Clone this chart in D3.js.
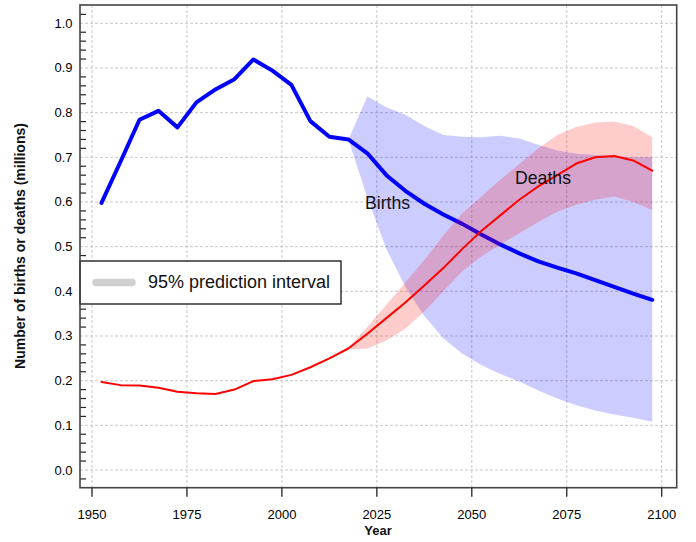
<!DOCTYPE html>
<html>
<head>
<meta charset="utf-8">
<script src="https://cdn.jsdelivr.net/npm/d3@7"></script>
<style>
  html, body { margin: 0; padding: 0; background: #fff; }
  svg { display: block; }
  text { font-family: "Liberation Sans", Arial, Helvetica, sans-serif; }
</style>
</head>
<body>
<script>
// ---- data ----
const years = [1952.5, 1957.5, 1962.5, 1967.5, 1972.5, 1977.5, 1982.5, 1987.5, 1992.5, 1997.5,
               2002.5, 2007.5, 2012.5, 2017.5, 2022.5, 2027.5, 2032.5, 2037.5, 2042.5, 2047.5,
               2052.5, 2057.5, 2062.5, 2067.5, 2072.5, 2077.5, 2082.5, 2087.5, 2092.5, 2097.5];
const births = [0.598, 0.690, 0.784, 0.804, 0.767, 0.823, 0.852, 0.875, 0.919, 0.894,
                0.862, 0.781, 0.746, 0.740, 0.709, 0.660, 0.625, 0.596, 0.572, 0.551,
                0.527, 0.505, 0.485, 0.467, 0.453, 0.440, 0.425, 0.410, 0.395, 0.381];
const deaths = [0.197, 0.190, 0.189, 0.184, 0.175, 0.172, 0.170, 0.180, 0.199, 0.203,
                0.213, 0.230, 0.250, 0.272, 0.305, 0.340, 0.375, 0.413, 0.452, 0.495,
                0.535, 0.570, 0.605, 0.635, 0.660, 0.686, 0.700, 0.703, 0.693, 0.670];
const bandYears = [2017.5, 2022.5, 2027.5, 2032.5, 2037.5, 2042.5, 2047.5, 2052.5, 2057.5,
                   2062.5, 2067.5, 2072.5, 2077.5, 2082.5, 2087.5, 2092.5, 2097.5];
const birthsLow  = [0.740, 0.610, 0.495, 0.410, 0.345, 0.295, 0.260, 0.235, 0.215,
                    0.198, 0.178, 0.160, 0.145, 0.133, 0.124, 0.117, 0.108];
const birthsHigh = [0.740, 0.836, 0.812, 0.795, 0.770, 0.750, 0.746, 0.745, 0.748,
                    0.742, 0.728, 0.715, 0.708, 0.705, 0.703, 0.700, 0.700];
const deathsLow  = [0.270, 0.272, 0.290, 0.316, 0.355, 0.400, 0.445, 0.478, 0.505,
                    0.530, 0.555, 0.578, 0.594, 0.605, 0.612, 0.600, 0.582];
const deathsHigh = [0.275, 0.320, 0.370, 0.420, 0.470, 0.525, 0.575, 0.612, 0.650,
                    0.685, 0.720, 0.750, 0.768, 0.778, 0.780, 0.770, 0.745];
const xTicks = [1950, 1975, 2000, 2025, 2050, 2075, 2100];
const yTicks = [0.0, 0.1, 0.2, 0.3, 0.4, 0.5, 0.6, 0.7, 0.8, 0.9, 1.0];
const yMinorTicks = [-0.02, 0.02, 0.04, 0.06, 0.08, 0.12, 0.14, 0.16, 0.18, 0.22, 0.24, 0.26, 0.28,
                     0.32, 0.34, 0.36, 0.38, 0.42, 0.44, 0.46, 0.48, 0.52, 0.54, 0.56, 0.58,
                     0.62, 0.64, 0.66, 0.68, 0.72, 0.74, 0.76, 0.78, 0.82, 0.84, 0.86, 0.88,
                     0.92, 0.94, 0.96, 0.98, 1.02];

// ---- layout ----
const W = 696, H = 542;
const frame = {x0: 80, x1: 676.7, y0: 5, y1: 487.7};
const x = d3.scaleLinear().domain([1950, 2100]).range([92, 661.7]);
const y = d3.scaleLinear().domain([0, 1]).range([470, 23.3]);

const svg = d3.select("body").append("svg").attr("width", W).attr("height", H);

// gridlines
const grid = svg.append("g");
grid.selectAll("line.gx").data(xTicks).join("line")
  .attr("x1", d => x(d)).attr("x2", d => x(d))
  .attr("y1", frame.y0).attr("y2", frame.y1)
  .attr("stroke", "#c8c8c8").attr("stroke-width", 1).attr("stroke-dasharray", "3,2");
grid.selectAll("line.gy").data(yTicks).join("line")
  .attr("x1", frame.x0).attr("x2", frame.x1)
  .attr("y1", d => y(d)).attr("y2", d => y(d))
  .attr("stroke", "#c8c8c8").attr("stroke-width", 1).attr("stroke-dasharray", "3,2");

// minor ticks on y (inside)
svg.append("g").selectAll("line").data(yMinorTicks).join("line")
  .attr("x1", frame.x0).attr("x2", frame.x0 + 6)
  .attr("y1", d => y(d)).attr("y2", d => y(d))
  .attr("stroke", "#222").attr("stroke-width", 1.2);

// bands and lines
const band = (lo, hi) => d3.area()
  .x((d, i) => x(bandYears[i]))
  .y0((d, i) => y(lo[i]))
  .y1((d, i) => y(hi[i]));
const line = vals => d3.line().x((d, i) => x(years[i])).y((d, i) => y(vals[i]));

svg.append("path").attr("d", band(birthsLow, birthsHigh)(bandYears))
  .attr("fill", "#0000ff").attr("fill-opacity", 0.2);
svg.append("path").attr("d", line(births)(years))
  .attr("fill", "none").attr("stroke", "#0000ff").attr("stroke-width", 4)
  .attr("stroke-linejoin", "round").attr("stroke-linecap", "round");
svg.append("path").attr("d", band(deathsLow, deathsHigh)(bandYears))
  .attr("fill", "#ff0000").attr("fill-opacity", 0.2);
svg.append("path").attr("d", line(deaths)(years))
  .attr("fill", "none").attr("stroke", "#ff0000").attr("stroke-width", 2)
  .attr("stroke-linejoin", "round").attr("stroke-linecap", "round");

// series labels
svg.append("text").attr("x", 365).attr("y", 209).attr("font-size", 17.7).attr("fill", "#111").text("Births");
svg.append("text").attr("x", 515).attr("y", 184).attr("font-size", 17.7).attr("fill", "#111").text("Deaths");

// legend
const lg = svg.append("g");
lg.append("rect").attr("x", 80).attr("y", 261).attr("width", 261).attr("height", 43)
  .attr("fill", "#fff").attr("stroke", "#111").attr("stroke-width", 1.3);
lg.append("line").attr("x1", 96).attr("x2", 132).attr("y1", 282.5).attr("y2", 282.5)
  .attr("stroke", "#d0d0d0").attr("stroke-width", 7.5).attr("stroke-linecap", "round");
lg.append("text").attr("x", 148).attr("y", 288).attr("font-size", 18).attr("fill", "#111")
  .text("95% prediction interval");

// frame
svg.append("rect").attr("x", frame.x0).attr("y", frame.y0)
  .attr("width", frame.x1 - frame.x0).attr("height", frame.y1 - frame.y0)
  .attr("fill", "none").attr("stroke", "#444").attr("stroke-width", 1.6);

// x ticks and labels
svg.append("g").selectAll("line").data(xTicks).join("line")
  .attr("x1", d => x(d)).attr("x2", d => x(d))
  .attr("y1", frame.y1).attr("y2", frame.y1 + 9)
  .attr("stroke", "#222").attr("stroke-width", 1.3);
svg.append("g").selectAll("text").data(xTicks).join("text")
  .attr("x", d => x(d)).attr("y", 519).attr("text-anchor", "middle")
  .attr("font-size", 13).attr("fill", "#000").text(d => d);

// y labels
svg.append("g").selectAll("text").data(yTicks).join("text")
  .attr("x", 72.5).attr("y", d => y(d) + 4.5).attr("text-anchor", "end")
  .attr("font-size", 13).attr("fill", "#000").text(d => d.toFixed(1));

// axis titles
svg.append("text").attr("x", 378).attr("y", 535).attr("text-anchor", "middle")
  .attr("font-size", 13).attr("font-weight", "bold").attr("fill", "#111").text("Year");
svg.append("text").attr("transform", "translate(25,246) rotate(-90)").attr("text-anchor", "middle")
  .attr("font-size", 14).attr("font-weight", "bold").attr("fill", "#111")
  .text("Number of births or deaths (millions)");
</script>
</body>
</html>
